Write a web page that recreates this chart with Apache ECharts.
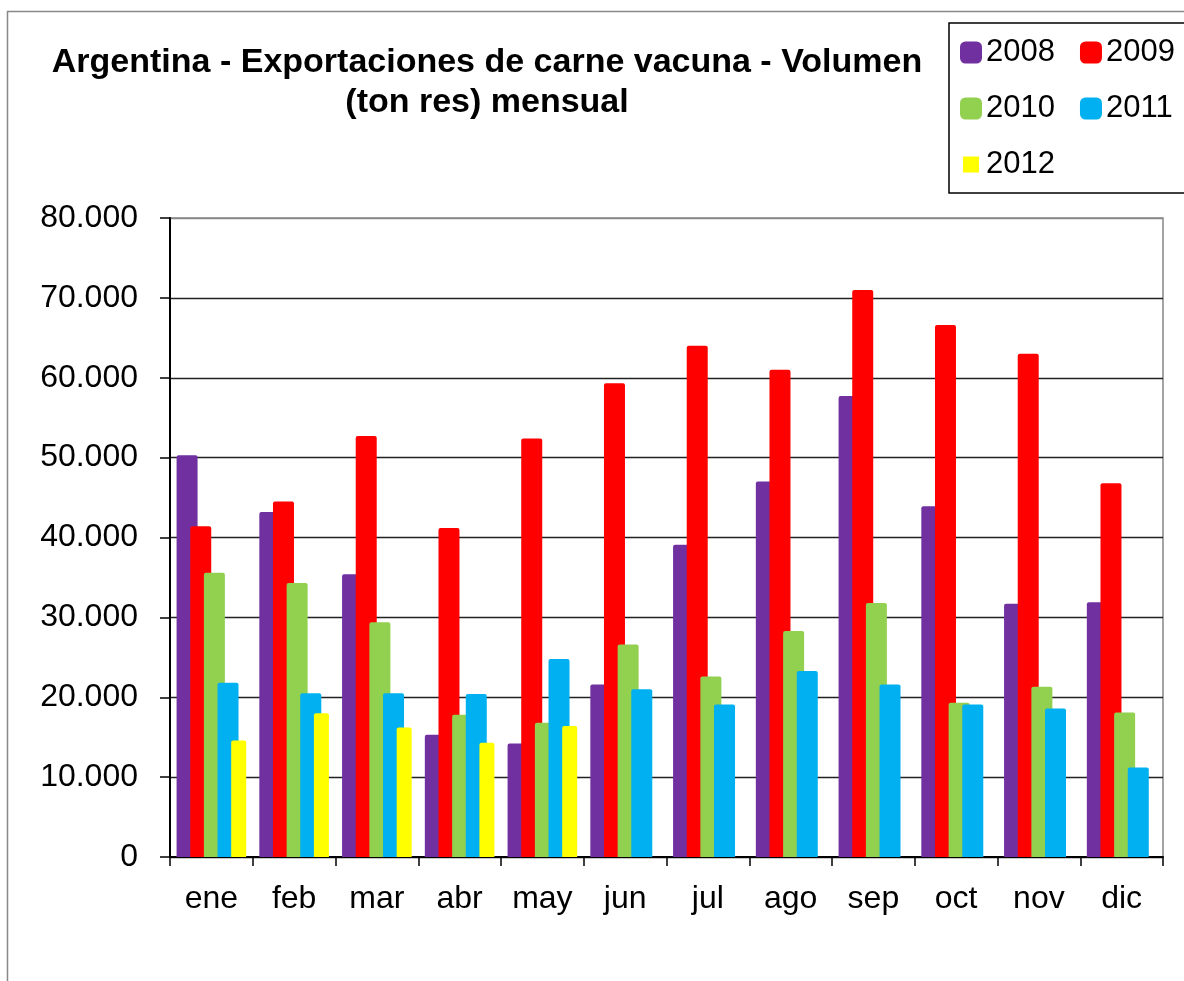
<!DOCTYPE html>
<html>
<head>
<meta charset="utf-8">
<script src="https://cdn.jsdelivr.net/npm/echarts@6/dist/echarts.min.js"></script>
<style>
html, body { margin: 0; padding: 0; background: #fff; }
#chart { width: 1184px; height: 981px; }
</style>
</head>
<body>
<div id="chart"></div>
<script>
var months = ['ene', 'feb', 'mar', 'abr', 'may', 'jun', 'jul', 'ago', 'sep', 'oct', 'nov', 'dic'];
var years = ['2008', '2009', '2010', '2011', '2012'];
var colors = ['#7030A0', '#FF0000', '#92D050', '#00B0F0', '#FFFF00'];

// ton res
var v2008 = [50300, 43200, 35400, 15300, 14200, 21600, 39100, 47000, 57700, 43900, 31700, 31900];
var v2009 = [41400, 44500, 52700, 41200, 52400, 59300, 64000, 61000, 71000, 66600, 63000, 46800];
var v2010 = [35600, 34300, 29400, 17800, 16800, 26600, 22600, 28300, 31800, 19300, 21300, 18100];
var v2011 = [21800, 20500, 20500, 20400, 24800, 21000, 19100, 23300, 21600, 19100, 18600, 11200];
var v2012 = [14600, 18000, 16200, 14300, 16400, null, null, null, null, null, null, null];
var seriesData = [v2008, v2009, v2010, v2011, v2012];

var yTicks = [0, 10000, 20000, 30000, 40000, 50000, 60000, 70000, 80000];

var font = '"Liberation Sans", Arial, sans-serif';

function fmt(v) {
    return String(v).replace(/\B(?=(\d{3})+(?!\d))/g, '.');
}

var series = [];
for (var i = 0; i < years.length; i++) {
    series.push({
        name: years[i],
        type: 'bar',
        data: seriesData[i],
        barWidth: i == 4 ? 15 : 21,
        barGap: '-35%',
        itemStyle: {color: colors[i], borderRadius: [2, 2, 0, 0]}
    });
}

// lineas de grilla: la de 80.000 es el borde gris del area
var gridColors = [];
for (var k = 0; k < yTicks.length; k++) {
    gridColors.push(k == yTicks.length - 1 ? '#888' : '#222');
}

var chart = echarts.init(document.getElementById('chart'));
chart.setOption({
    backgroundColor: '#fff',
    animation: false,
    color: colors,
    title: {
        text: 'Argentina - Exportaciones de carne vacuna - Volumen\n(ton res) mensual',
        left: 487,
        top: 43,
        padding: 0,
        textAlign: 'center',
        textStyle: {fontFamily: font, fontSize: 34, fontWeight: 'bold', color: '#000', lineHeight: 40}
    },
    legend: {
        left: 960,
        top: 37,
        width: 220,
        padding: 0,
        itemGap: 25,
        itemWidth: 22,
        itemHeight: 22,
        textStyle: {fontFamily: font, fontSize: 31, color: '#000', padding: [0, 0, 0, -1]},
        data: [
            {name: '2008', icon: 'roundRect'},
            {name: '2009', icon: 'roundRect'},
            {name: '2010', icon: 'roundRect'},
            {name: '2011', icon: 'roundRect'},
            {name: '2012', icon: 'path://M0,0L0.01,0M22,22L21.99,22M3,3L19,3L19,19L3,19Z'}
        ]
    },
    grid: {
        left: 170, right: 21, top: 218, bottom: 124,
        show: true, borderColor: '#888', borderWidth: 1.5
    },
    xAxis: {
        type: 'category',
        data: months,
        axisLine: {lineStyle: {color: '#000', width: 2}},
        axisTick: {show: true, length: 9, lineStyle: {color: '#000', width: 1.5}},
        axisLabel: {fontFamily: font, fontSize: 32, color: '#000', margin: 26}
    },
    yAxis: {
        type: 'value',
        min: 0,
        max: 80000,
        interval: 10000,
        axisLine: {show: true, lineStyle: {color: '#000', width: 2}},
        axisTick: {show: true, length: 10, lineStyle: {color: '#000', width: 1.5}},
        axisLabel: {fontFamily: font, fontSize: 32, color: '#000', margin: 32, formatter: fmt},
        splitLine: {show: true, lineStyle: {color: gridColors, width: 1.3}}
    },
    graphic: [
        {type: 'rect', silent: true, z: -1, shape: {x: 7.5, y: 11.5, width: 1300, height: 1100}, style: {fill: 'none', stroke: '#888', lineWidth: 1.5}},
        {type: 'rect', silent: true, shape: {x: 949, y: 23, width: 260, height: 170}, style: {fill: 'none', stroke: '#000', lineWidth: 1.5}}
    ],
    series: series
});
</script>
</body>
</html>
